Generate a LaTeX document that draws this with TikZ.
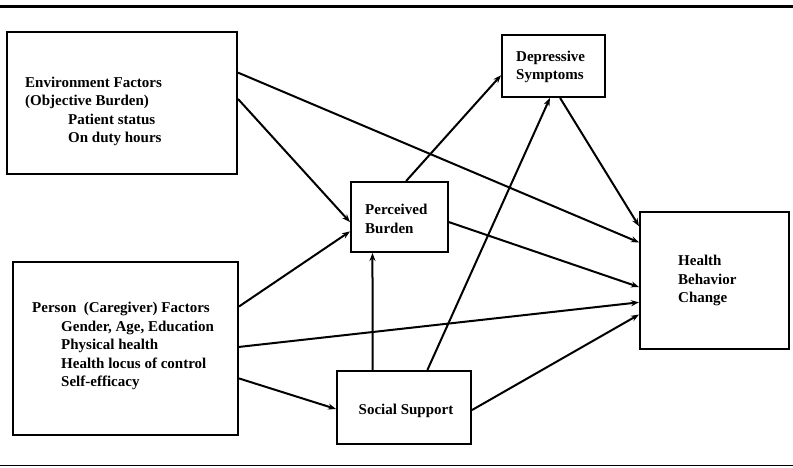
\documentclass[tikz,border=0pt]{standalone}
\usepackage{fontspec}
\setmainfont{Liberation Serif}
\usetikzlibrary{arrows.meta,calc}
\tikzset{
  box/.style={draw, line width=2pt, inner sep=0pt, rectangle},
  txt/.style={inner sep=0pt, align=left, font=\fontsize{15}{18.5}\selectfont\bfseries},
  conn/.style={line width=2pt, -{Stealth[length=8pt,width=6pt]}},
  rule/.style={line width=#1}
}
\begin{document}
\begin{tikzpicture}[x=1pt,y=-1pt]
\useasboundingbox (0,0) rectangle (793,468);
% rules
\coordinate (tl) at (0,6.5); \coordinate (tr) at (793,6.5);
\coordinate (bl) at (0,465.5); \coordinate (br) at (793,465.5);
\draw[rule=3.5pt] (tl) -- (tr);
\draw[rule=1.5pt] (bl) -- (br);
% boxes
\node[box, minimum width=230pt, minimum height=142pt] (env) at (122,103) {};
\node[box, minimum width=225pt, minimum height=173pt] (per) at (125.5,348.5) {};
\node[box, minimum width=97pt, minimum height=70pt] (pb) at (399.5,217) {};
\node[box, minimum width=103pt, minimum height=62pt] (dep) at (553.5,66) {};
\node[box, minimum width=149pt, minimum height=137pt] (hbc) at (714.5,280.5) {};
\node[box, minimum width=134pt, minimum height=73pt] (soc) at (404,407.5) {};
% texts
\node[txt, anchor=west] (envt) at (25,111.5) {Environment Factors\\(Objective Burden)\\\hspace*{43pt}Patient status\\\hspace*{43pt}On duty hours};
\node[txt, anchor=west] (pert) at (32,346) {Person\ \ (Caregiver) Factors\\\hspace*{29pt}Gender, Age, Education\\\hspace*{29pt}Physical health\\\hspace*{29pt}Health locus of control\\\hspace*{29pt}Self-efficacy};
\node[txt, anchor=west] (pbt) at (365,219) {Perceived\\Burden};
\node[txt, anchor=west] (dept) at (516,67) {Depressive\\Symptoms};
\node[txt, anchor=west] (hbct) at (678,280.5) {Health\\Behavior\\Change};
\node[txt] (soct) at (406,411) {Social Support};
% connectors
\draw[conn] ($(env.north east)!0.289!(env.south east)$) -- ($(hbc.north west)!0.226!(hbc.south west)$);
\draw[conn] ($(env.north east)!0.472!(env.south east)$) -- ($(pb.north west)!0.571!(pb.south west)$);
\draw[conn] ($(per.north east)!0.26!(per.south east)$) -- ($(pb.north west)!0.70!(pb.south west)$);
\draw[conn] ($(per.north east)!0.491!(per.south east)$) -- ($(hbc.north west)!0.657!(hbc.south west)$);
\draw[conn] ($(per.north east)!0.671!(per.south east)$) -- ($(soc.north west)!0.52!(soc.south west)$);
\draw[conn] ($(pb.north west)!0.567!(pb.north east)$) -- ($(dep.north west)!0.645!(dep.south west)$);
\draw[conn] ($(pb.north east)!0.571!(pb.south east)$) -- ($(hbc.north west)!0.547!(hbc.south west)$);
\draw[conn] ($(soc.north west)!0.269!(soc.north east)$) -- ($(pb.south west)!0.227!(pb.south east)$);
\draw[conn] ($(soc.north west)!0.672!(soc.north east)$) -- ($(dep.south west)!0.466!(dep.south east)$);
\draw[conn] ($(soc.north east)!0.534!(soc.south east)$) -- ($(hbc.north west)!0.745!(hbc.south west)$);
\draw[conn] ($(dep.south west)!0.563!(dep.south east)$) -- ($(hbc.north west)!0.109!(hbc.south west)$);
\end{tikzpicture}
\end{document}
